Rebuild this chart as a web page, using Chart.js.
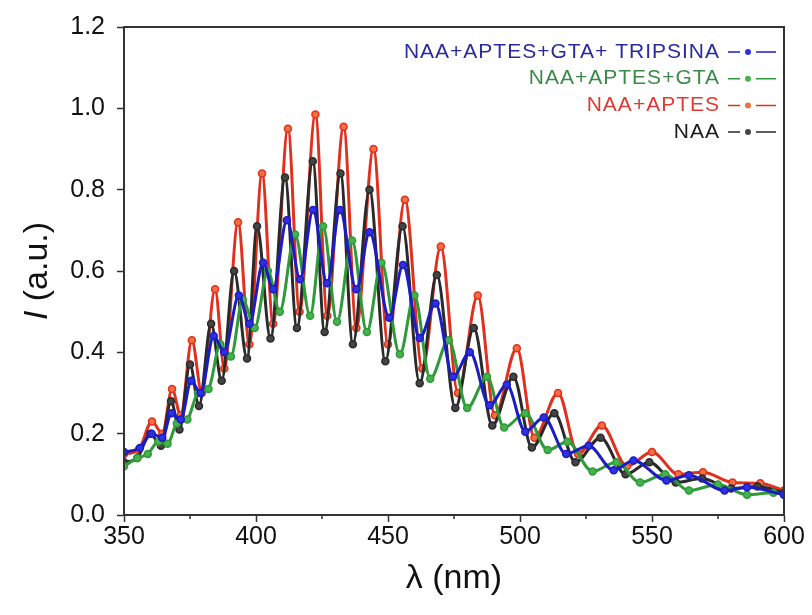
<!DOCTYPE html>
<html>
<head>
<meta charset="utf-8">
<script src="https://cdn.jsdelivr.net/npm/chart.js@4.4.1/dist/chart.umd.min.js"></script>
<style>
  html, body { margin: 0; padding: 0; background: #fff; }
  #wrap { width: 812px; height: 615px; }
</style>
</head>
<body>
<div id="wrap"><canvas id="chart" width="812" height="615"></canvas></div>
<script>
// fringe peaks / valleys, wavelength in nm, intensity in a.u.
const tripsinaX = [350, 356, 360.5, 364.5, 368, 371.5, 375.5, 379, 384, 388, 393.5, 397.5, 402.7, 406.5, 411.7, 416.7, 421.6, 426.9, 431.8, 438, 443, 450.5, 455.7, 462, 468, 474.6, 481, 488.5, 495, 502, 509, 517.5, 526, 535.5, 543, 555.5, 564, 577.5, 586, 600];
const tripsinaY = [0.155, 0.165, 0.2, 0.19, 0.25, 0.235, 0.33, 0.3, 0.44, 0.4, 0.54, 0.47, 0.62, 0.555, 0.725, 0.58, 0.75, 0.57, 0.75, 0.555, 0.695, 0.485, 0.615, 0.435, 0.52, 0.34, 0.4, 0.27, 0.32, 0.205, 0.24, 0.15, 0.17, 0.11, 0.134, 0.085, 0.098, 0.06, 0.068, 0.05];

const gtaX = [350, 355, 359, 363, 366.5, 370, 374, 378, 382, 386.5, 390.5, 395, 399.5, 404.5, 409, 414.8, 420.5, 425.4, 430.7, 436.4, 442, 447.5, 454.5, 460, 466, 473, 480, 487.5, 494, 502, 510.5, 518, 527.5, 536.5, 545.5, 555, 564, 575, 586, 596, 600];
const gtaY = [0.12, 0.14, 0.15, 0.18, 0.175, 0.225, 0.235, 0.3, 0.31, 0.42, 0.39, 0.53, 0.46, 0.6, 0.5, 0.69, 0.49, 0.71, 0.475, 0.675, 0.45, 0.62, 0.395, 0.54, 0.335, 0.43, 0.263, 0.34, 0.215, 0.25, 0.16, 0.18, 0.107, 0.13, 0.08, 0.1, 0.06, 0.075, 0.05, 0.055, 0.05];

const aptesX = [350, 355.5, 360.6, 364.5, 368.2, 371.5, 375.7, 379.5, 384.5, 388, 393.2, 397.5, 402.3, 406.5, 412.1, 416.5, 422.5, 427, 433.2, 438, 444.5, 450, 456.4, 463, 470, 476.5, 484, 490.5, 498.8, 505.5, 514.4, 522, 531, 540.5, 550, 560, 569.3, 580.5, 591, 600];
const aptesY = [0.15, 0.16, 0.23, 0.2, 0.31, 0.245, 0.43, 0.3, 0.555, 0.36, 0.72, 0.42, 0.84, 0.47, 0.95, 0.5, 0.985, 0.49, 0.955, 0.46, 0.9, 0.42, 0.775, 0.36, 0.66, 0.3, 0.54, 0.245, 0.41, 0.19, 0.3, 0.15, 0.22, 0.12, 0.155, 0.1, 0.105, 0.08, 0.078, 0.06];

const naaX = [350, 355, 360, 364, 367.8, 371, 375, 378.4, 383, 387, 391.7, 396.6, 400.4, 405.5, 411, 415.5, 421.5, 426, 432, 436.7, 443, 449, 455.5, 462, 468.5, 475.5, 482.5, 489.5, 497.5, 504.5, 513, 521, 530.5, 540, 549, 559, 569, 580, 590, 600];
const naaY = [0.13, 0.14, 0.2, 0.17, 0.28, 0.21, 0.37, 0.268, 0.47, 0.33, 0.6, 0.385, 0.71, 0.434, 0.83, 0.46, 0.87, 0.45, 0.84, 0.42, 0.8, 0.378, 0.71, 0.324, 0.59, 0.263, 0.46, 0.22, 0.34, 0.166, 0.25, 0.13, 0.19, 0.1, 0.13, 0.08, 0.09, 0.065, 0.07, 0.055];

const seriesNames = ["NAA+APTES+GTA+ TRIPSINA", "NAA+APTES+GTA", "NAA+APTES", "NAA"];
const xTickValues = [350, 400, 450, 500, 550, 600];
const xMinorTicks = [375, 425, 475, 525, 575];

const FONT = "'Liberation Sans', Arial, Helvetica, sans-serif";
Chart.defaults.font.family = FONT;
Chart.defaults.color = '#111';

const toPoints = (xs, ys) => xs.map((x, i) => ({ x: x, y: ys[i] }));

function makeDataset(label, xs, ys, line, fill, textColor, order) {
    return {
        label: label,
        data: toPoints(xs, ys),
        borderColor: line,
        backgroundColor: fill,
        pointBackgroundColor: fill,
        pointBorderColor: line,
        pointBorderWidth: 1.5,
        pointRadius: 3.5,
        borderWidth: 3,
        cubicInterpolationMode: 'monotone',
        textColor: textColor,
        order: order
    };
}

// frame round the plot + short minor ticks on the x axis
const framePlugin = {
    id: 'frame',
    afterDraw(chart) {
        const { ctx, chartArea } = chart;
        const xs = chart.scales.x;
        ctx.save();
        ctx.strokeStyle = '#333';
        ctx.lineWidth = 2;
        ctx.strokeRect(chartArea.left, chartArea.top, chartArea.right - chartArea.left, chartArea.bottom - chartArea.top);
        ctx.lineWidth = 1.5;
        xMinorTicks.forEach(v => {
            const px = xs.getPixelForValue(v);
            ctx.beginPath();
            ctx.moveTo(px, chartArea.bottom);
            ctx.lineTo(px, chartArea.bottom + 4);
            ctx.stroke();
        });
        ctx.restore();
    }
};

// y title with italic I
const yTitlePlugin = {
    id: 'yTitle',
    afterDraw(chart) {
        const { ctx, chartArea } = chart;
        const cy = (chartArea.top + chartArea.bottom) / 2;
        const cx = chartArea.left - 86;
        const italic = 'italic 34px ' + FONT;
        const normal = '34px ' + FONT;
        ctx.save();
        ctx.translate(cx, cy);
        ctx.rotate(-Math.PI / 2);
        ctx.textBaseline = 'middle';
        ctx.textAlign = 'left';
        ctx.fillStyle = '#111';
        ctx.font = italic;
        const w1 = ctx.measureText('I').width;
        ctx.font = normal;
        const w2 = ctx.measureText(' (a.u.)').width;
        const x0 = -(w1 + w2) / 2;
        ctx.font = italic;
        ctx.fillText('I', x0, 0);
        ctx.font = normal;
        ctx.fillText(' (a.u.)', x0 + w1, 0);
        ctx.restore();
    }
};

// legend: coloured text, sample line on the right
const legendPlugin = {
    id: 'sideLegend',
    afterDraw(chart) {
        const { ctx, chartArea } = chart;
        ctx.save();
        ctx.font = '21px ' + FONT;
        if ('letterSpacing' in ctx) ctx.letterSpacing = '1px';
        ctx.textAlign = 'right';
        ctx.textBaseline = 'middle';
        chart.data.datasets.forEach((ds, i) => {
            const y = chartArea.top + 25 + i * 26.7;
            const sx0 = chartArea.right - 56;
            const sx1 = chartArea.right - 8;
            ctx.fillStyle = ds.textColor;
            ctx.fillText(ds.label, sx0 - 8, y);
            ctx.strokeStyle = ds.borderColor;
            ctx.lineWidth = 1.5;
            ctx.beginPath();
            ctx.moveTo(sx0, y);
            ctx.lineTo(sx0 + 12, y);
            ctx.moveTo(sx0 + 28, y);
            ctx.lineTo(sx1, y);
            ctx.stroke();
            ctx.beginPath();
            ctx.arc(sx0 + 20, y, 3, 0, Math.PI * 2);
            ctx.fillStyle = ds.pointBackgroundColor;
            ctx.fill();
        });
        ctx.restore();
    }
};

const chart = new Chart(document.getElementById('chart'), {
    type: 'line',
    data: {
        datasets: [
            makeDataset(seriesNames[0], tripsinaX, tripsinaY, '#1c1cc4', '#3030e0', '#2a2aa0', 0),
            makeDataset(seriesNames[1], gtaX, gtaY, '#2f9a3a', '#46b24c', '#3a8a48', 1),
            makeDataset(seriesNames[2], aptesX, aptesY, '#e0301e', '#f07040', '#e03a36', 3),
            makeDataset(seriesNames[3], naaX, naaY, '#2a2a2a', '#444444', '#1a1a1a', 2)
        ]
    },
    options: {
        responsive: false,
        animation: false,
        devicePixelRatio: 1,
        layout: { padding: { top: 23, right: 28, left: 0, bottom: 0 } },
        plugins: { legend: { display: false }, tooltip: { enabled: false } },
        scales: {
            x: {
                type: 'linear',
                min: 350,
                max: 600,
                afterBuildTicks(scale) {
                    scale.ticks = xTickValues.map(v => ({ value: v }));
                },
                ticks: { font: { size: 25 }, color: '#111', padding: 0, maxRotation: 0, autoSkip: false },
                grid: { drawOnChartArea: false, tickLength: 7, tickColor: '#333', tickWidth: 1.5 },
                border: { color: '#333', width: 2 },
                title: { display: true, text: 'λ (nm)', font: { size: 34 }, color: '#111', padding: { top: 0, bottom: 16 } },
                afterFit(scale) { scale.height = 100; }
            },
            y: {
                min: 0,
                max: 1.2,
                ticks: { stepSize: 0.2, callback: v => v.toFixed(1), font: { size: 25 }, color: '#111', padding: 12 },
                grid: { drawOnChartArea: false, tickLength: 7, tickColor: '#333', tickWidth: 1.5 },
                border: { color: '#333', width: 2 },
                afterFit(scale) { scale.width = 124; }
            }
        }
    },
    plugins: [framePlugin, yTitlePlugin, legendPlugin]
});
</script>
</body>
</html>
